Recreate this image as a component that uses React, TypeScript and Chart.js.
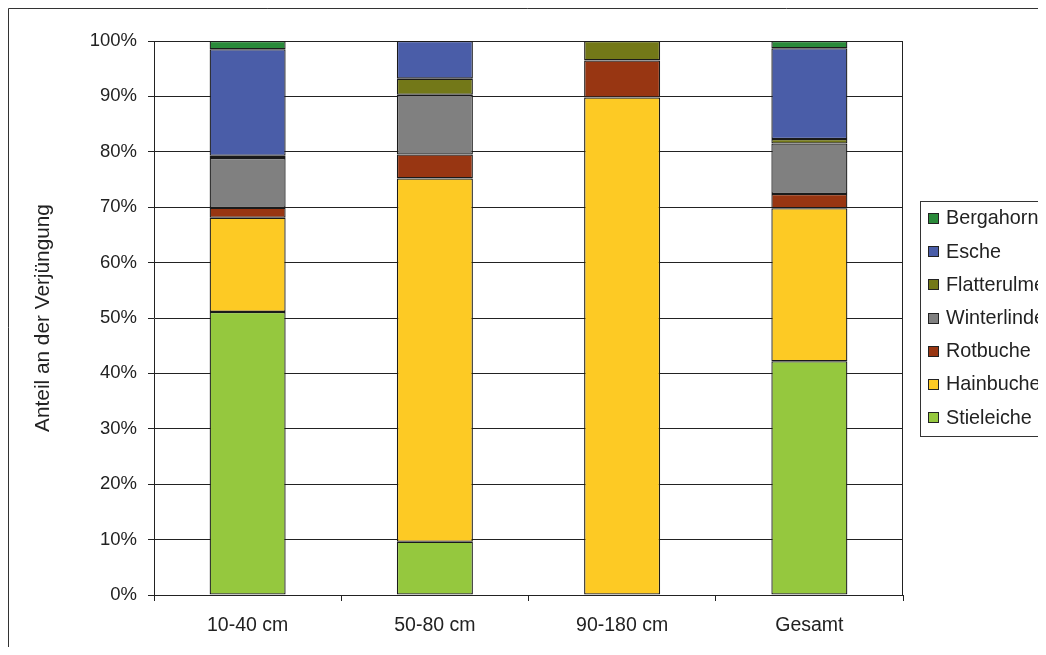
import React, { useEffect, useRef } from "react";
import { Chart, registerables } from "chart.js";

Chart.register(...registerables);

const categories = ["10-40 cm", "50-80 cm", "90-180 cm", "Gesamt"];
const stieleiche = [51.1, 9.6, null, 42.2];
const hainbuche = [17.0, 65.6, 89.8, 27.6];
const rotbuche = [1.8, 4.3, 6.7, 2.6];
const winterlinde = [9.0, 10.8, null, 9.1];
const flatterulme = [0.4, 2.9, 3.5, 0.8];
const esche = [19.2, 6.8, null, 16.4];
const bergahorn = [1.5, null, null, 1.3];

const seriesNames = ["Stieleiche", "Hainbuche", "Rotbuche", "Winterlinde", "Flatterulme", "Esche", "Bergahorn"];
const seriesValues = [stieleiche, hainbuche, rotbuche, winterlinde, flatterulme, esche, bergahorn];
const seriesColors = ["#95c83e", "#fdca24", "#983612", "#808080", "#737818", "#4a5da8", "#2a8a3a"];

const yAxisTitle = "Anteil an der Verjüngung";
const FONT = "'Liberation Sans', Arial, sans-serif";
const INK = "#222222";

const framePlugin = {
  id: "frameAndLegend",
  afterDraw(chart: any) {
    const ctx = chart.ctx;
    const ca = chart.chartArea;
    ctx.save();
    ctx.strokeStyle = "#333333";
    ctx.lineWidth = 1;
    ctx.beginPath();
    ctx.moveTo(0.5, chart.height);
    ctx.lineTo(0.5, 0.5);
    ctx.lineTo(chart.width, 0.5);
    ctx.stroke();
    ctx.strokeStyle = INK;
    ctx.beginPath();
    ctx.moveTo(Math.round(ca.right) - 0.5, ca.top);
    ctx.lineTo(Math.round(ca.right) - 0.5, ca.bottom);
    ctx.stroke();
    const lx = Math.round(ca.right) + 17;
    const ly = 193;
    ctx.strokeStyle = "#333333";
    ctx.strokeRect(lx + 0.5, ly + 0.5, 200, 235);
    const ds = chart.data.datasets;
    ctx.font = `19.8px ${FONT}`;
    ctx.textBaseline = "middle";
    ctx.textAlign = "left";
    for (let i = 0; i < ds.length; i++) {
      const d = ds[ds.length - 1 - i];
      const y = ly + 17 + i * 33.2;
      ctx.fillStyle = d.backgroundColor;
      ctx.fillRect(lx + 8, Math.round(y - 5), 10, 10);
      ctx.strokeStyle = INK;
      ctx.strokeRect(lx + 8.5, Math.round(y - 5) + 0.5, 10, 10);
      ctx.fillStyle = INK;
      ctx.fillText(d.label, lx + 26, y + 1);
    }
    ctx.restore();
  },
};

export default function App() {
  const ref = useRef<HTMLCanvasElement>(null);
  useEffect(() => {
    if (!ref.current) return;
    const chart = new Chart(ref.current, {
      type: "bar",
      data: {
        labels: categories,
        datasets: seriesNames.map((name, i) => ({
          label: name,
          data: seriesValues[i],
          backgroundColor: seriesColors[i],
          borderColor: "#1a1a1a",
          borderWidth: 1.3,
          borderSkipped: false,
          inflateAmount: 0,
          barPercentage: 0.406,
          categoryPercentage: 1,
        })),
      },
      options: {
        responsive: false,
        animation: false,
        devicePixelRatio: 1,
        layout: { padding: { left: 0, top: 33, right: 143, bottom: 0 } },
        plugins: {
          legend: { display: false },
          tooltip: { enabled: false },
        },
        scales: {
          x: {
            stacked: true,
            afterFit: (s: any) => {
              s.height = 52;
            },
            grid: {
              drawOnChartArea: false,
              drawTicks: true,
              tickLength: 6,
              offset: true,
              color: INK,
            },
            border: { color: INK, width: 1 },
            ticks: {
              color: INK,
              padding: 13,
              font: { family: FONT, size: 19.5 },
              maxRotation: 0,
            },
          },
          y: {
            stacked: true,
            min: 0,
            max: 100,
            afterFit: (s: any) => {
              s.width = 146;
            },
            grid: { color: INK, tickLength: 6, drawTicks: true },
            border: { color: INK, width: 1 },
            ticks: {
              stepSize: 10,
              color: INK,
              padding: 11,
              font: { family: FONT, size: 18.5 },
              callback: (v: any) => `${v}%`,
            },
            title: {
              display: true,
              text: yAxisTitle,
              color: INK,
              font: { family: FONT, size: 20.8 },
              padding: { top: 23, bottom: 0 },
            },
          },
        },
      },
      plugins: [framePlugin],
    });
    return () => chart.destroy();
  }, []);
  return (
    <div style={{ width: 1038, height: 639, overflow: "hidden", background: "#fff" }}>
      <canvas ref={ref} width={1038} height={639} style={{ display: "block", width: 1038, height: 639 }} />
    </div>
  );
}
